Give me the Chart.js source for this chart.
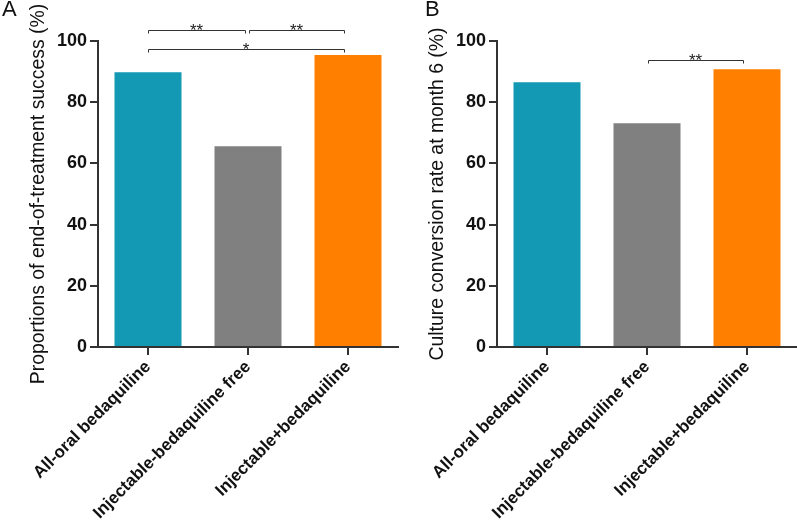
<!DOCTYPE html>
<html>
<head>
<meta charset="utf-8">
<script src="https://cdn.jsdelivr.net/npm/chart.js@4.4.1/dist/chart.umd.min.js"></script>
<style>
  html, body { margin: 0; padding: 0; background: #fff; overflow: hidden; }
  body { width: 797px; height: 521px; position: relative; font-family: Arial, "Liberation Sans", sans-serif; }
  .panel { position: absolute; top: 0; height: 521px; }
  .tag { position: absolute; top: -4px; font-size: 22px; color: #111; }
</style>
</head>
<body>
<div class="panel" style="left:0;width:400px"><canvas id="chartA"></canvas></div>
<div class="panel" style="left:399px;width:400px"><canvas id="chartB"></canvas></div>
<div class="tag" style="left:2px">A</div>
<div class="tag" style="left:425px">B</div>
<script>
// Data
var groups = ["All-oral bedaquiline", "Injectable-bedaquiline free", "Injectable+bedaquiline"];
var successRate = [89.8, 65.6, 95.4];
var conversionRate = [86.5, 73.1, 90.8];
var yTicks = [0, 20, 40, 60, 80, 100];
var barColors = ["#1399B3", "#808080", "#FF8000"];

// significance brackets: [from, to, level, label]
var sigA = [[0, 1, 103.6, "**"], [1, 2, 103.6, "**"], [0, 2, 97.4, "*"]];
var sigB = [[1, 2, 93.8, "**"]];

var FONT = "Arial, 'Liberation Sans', sans-serif";
var AXIS = "#333333";

var bracketPlugin = {
    id: "brackets",
    afterDraw: function (chart) {
        var list = chart.options.plugins.brackets.list;
        var ctx = chart.ctx, x = chart.scales.x, y = chart.scales.y;
        ctx.save();
        ctx.strokeStyle = AXIS;
        ctx.lineWidth = 1;
        ctx.fillStyle = "#222";
        ctx.font = "17px " + FONT;
        ctx.textAlign = "center";
        ctx.textBaseline = "alphabetic";
        list.forEach(function (s) {
            var x1 = x.getPixelForValue(s[0]) + (s[0] > 0 ? 1 : 0);
            var x2 = x.getPixelForValue(s[1]) - (s[1] - s[0] === 1 && s[0] === 0 && list.length > 1 ? 3 : 4);
            var yy = Math.round(y.getPixelForValue(s[2])) + 0.5;
            ctx.beginPath();
            ctx.moveTo(x1 + 0.5, yy + 3);
            ctx.lineTo(x1 + 0.5, yy);
            ctx.lineTo(x2 + 0.5, yy);
            ctx.lineTo(x2 + 0.5, yy + 3);
            ctx.stroke();
            ctx.fillText(s[3], (x1 + x2) / 2, yy + 5);
        });
        ctx.restore();
    }
};

function makeChart(id, values, title, sig) {
    var ctx = document.getElementById(id).getContext("2d");
    return new Chart(ctx, {
        type: "bar",
        data: {
            labels: groups,
            datasets: [{
                data: values,
                backgroundColor: barColors,
                borderWidth: 0,
                categoryPercentage: 1,
                barPercentage: 0.67
            }]
        },
        options: {
            responsive: false,
            animation: false,
            devicePixelRatio: 1,
            layout: { padding: { top: 41, right: 2, bottom: 0, left: 0 } },
            plugins: {
                legend: { display: false },
                tooltip: { enabled: false },
                brackets: { list: sig }
            },
            scales: {
                x: {
                    grid: { drawOnChartArea: false, offset: false, tickLength: 8, lineWidth: 2, color: AXIS },
                    border: { display: true, width: 2, color: AXIS },
                    ticks: {
                        minRotation: 45, maxRotation: 45, padding: 2,
                        color: "#111",
                        font: { family: FONT, size: 17, weight: "bold" }
                    },
                    afterFit: function (scale) { scale.height = 174; }
                },
                y: {
                    min: 0, max: 100,
                    afterBuildTicks: function (scale) {
                        scale.ticks = yTicks.map(function (v) { return { value: v }; });
                    },
                    grid: { drawOnChartArea: false, tickLength: 8, lineWidth: 2, color: AXIS },
                    border: { display: true, width: 2, color: AXIS },
                    ticks: {
                        padding: 3, color: "#111",
                        font: { family: FONT, size: 18, weight: "bold" }
                    },
                    title: {
                        display: true, text: title, color: "#111",
                        padding: { top: 27, bottom: 0 },
                        font: { family: FONT, size: 19.4 }
                    },
                    afterFit: function (scale) { scale.width = 98; }
                }
            }
        },
        plugins: [bracketPlugin]
    });
}

var cA = document.getElementById("chartA");
cA.width = 400; cA.height = 521;
var cB = document.getElementById("chartB");
cB.width = 400; cB.height = 521;

makeChart("chartA", successRate, "Proportions of end-of-treatment success (%)", sigA);
makeChart("chartB", conversionRate, "Culture conversion rate at month 6 (%)", sigB);
</script>
</body>
</html>
